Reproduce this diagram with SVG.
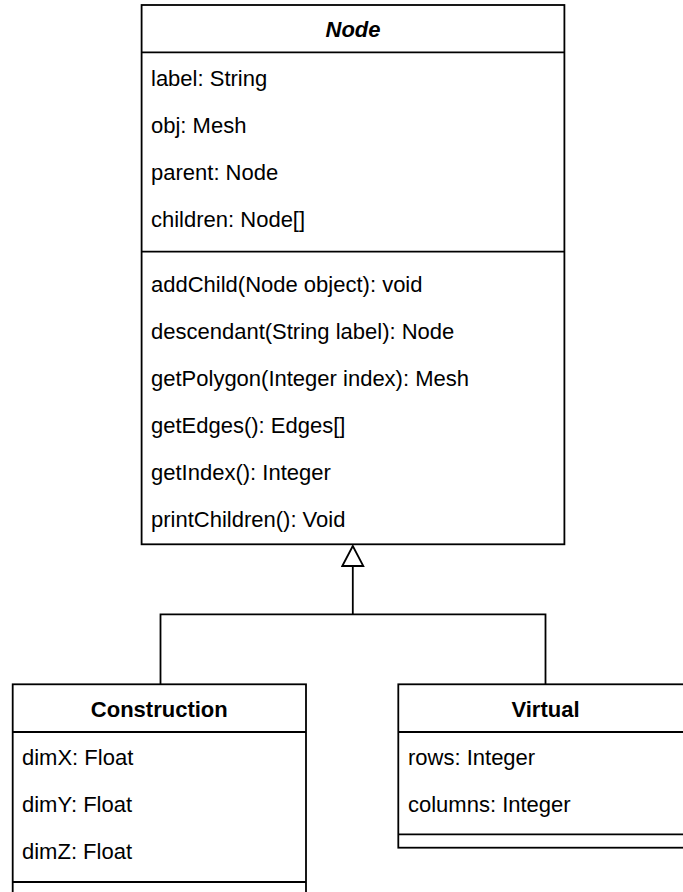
<svg xmlns="http://www.w3.org/2000/svg" width="683" height="892" viewBox="0 0 683 892">
<defs>
<style>
.box{fill:#fff;stroke:#000;stroke-width:1.8}
.ln{fill:none;stroke:#000;stroke-width:1.8}
text{font-family:"Liberation Sans",Arial,sans-serif;font-size:22px;fill:#000}
.title{font-weight:bold;text-anchor:middle}
.it{font-style:italic}
</style>
<marker id="inh" markerUnits="userSpaceOnUse" markerWidth="26" markerHeight="26" refX="21" refY="12" orient="auto">
<path d="M1,1.5 L21,12 L1,22.5 Z" fill="#fff" stroke="#000" stroke-width="1.8"/>
</marker>
</defs>
<rect width="683" height="892" fill="#fff"/>
<g id="connectors">
<path class="ln" d="M160.5,684.3 V614.3 H545.5 V684.3"/>
<path class="ln" d="M352.8,614.3 V546" marker-end="url(#inh)"/>
</g>
<g id="node-Node">
<rect class="box" x="141.6" y="5" width="422.8" height="539.3"/>
<line class="ln" x1="141.6" y1="52.3" x2="564.4" y2="52.3"/>
<line class="ln" x1="141.6" y1="251.7" x2="564.4" y2="251.7"/>
<text class="title it" x="353" y="37">Node</text>
<text x="151" y="86">label: String</text>
<text x="151" y="133">obj: Mesh</text>
<text x="151" y="180">parent: Node</text>
<text x="151" y="227">children: Node[]</text>
<text x="151" y="292">addChild(Node object): void</text>
<text x="151" y="339">descendant(String label): Node</text>
<text x="151" y="386">getPolygon(Integer index): Mesh</text>
<text x="151" y="433">getEdges(): Edges[]</text>
<text x="151" y="480">getIndex(): Integer</text>
<text x="151" y="527">printChildren(): Void</text>
</g>
<g id="node-Construction">
<rect class="box" x="12.7" y="684.3" width="293.3" height="230"/>
<line class="ln" x1="12.7" y1="732" x2="306" y2="732"/>
<line class="ln" x1="12.7" y1="882" x2="306" y2="882"/>
<text class="title" x="159.3" y="717">Construction</text>
<text x="22" y="765">dimX: Float</text>
<text x="22" y="812">dimY: Float</text>
<text x="22" y="859">dimZ: Float</text>
</g>
<g id="node-Virtual">
<rect class="box" x="398.3" y="684.3" width="294.4" height="163.4"/>
<line class="ln" x1="398.3" y1="732" x2="692.7" y2="732"/>
<line class="ln" x1="398.3" y1="834.3" x2="692.7" y2="834.3"/>
<text class="title" x="545.5" y="717">Virtual</text>
<text x="408" y="765">rows: Integer</text>
<text x="408" y="812">columns: Integer</text>
</g>
</svg>
